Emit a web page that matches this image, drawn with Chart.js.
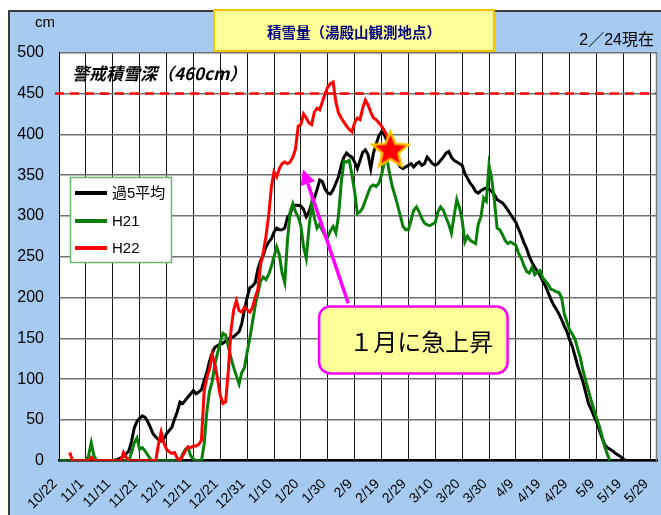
<!DOCTYPE html>
<html><head><meta charset="utf-8">
<script src="https://cdn.jsdelivr.net/npm/chart.js@4.4.1/dist/chart.umd.min.js"></script>
<style>html,body{margin:0;padding:0;background:#fff;}canvas{display:block}</style>
</head><body>
<canvas id="c" width="661" height="515"></canvas>
<script>
// x axis: day index counted from 10/22
const xTickLabels = ['10/22','11/1','11/11','11/21','12/1','12/11','12/21','12/31','1/10','1/20','1/30','2/9','2/19','2/29','3/10','3/20','3/30','4/9','4/19','4/29','5/9','5/19','5/29'];
const yTicks = [0,50,100,150,200,250,300,350,400,450,500];
const seriesNames = ['過5平均','H21','H22'];
const warnLevel = 450;
const currentPoint = [123.3, 380];

// [day, cm]
const avg5 = [[0,0],[20,0],[22,2],[24,5],[26,12],[27,24],[28,40],[29,48],[30,52],[31,55],[32,53],[33,48],[34,41],[35,33],[36,29],[37,26],[38,24],[39,27],[40,33],[42,41],[43,51],[44,60],[45,72],[46,70],[47,74],[48,78],[49,82],[50,86],[51,82],[52,84],[53,87],[54,98],[55,108],[56,122],[57,132],[58,139],[59,141],[61,144],[63,149],[64,151],[65,152],[67,158],[68,168],[69,185],[70,200],[71,212],[72,214],[73,218],[74,235],[75,245],[76,252],[77,262],[78,268],[79,272],[80,280],[81,285],[82,283],[83,283],[84,285],[85,298],[86,302],[87,312],[88,313],[89,313],[90,312],[91,308],[92,299],[93,305],[94,315],[95,322],[96,332],[97,344],[98,342],[99,333],[100,328],[101,327],[102,332],[103,340],[104,348],[105,362],[106,372],[107,377],[108,374],[109,372],[110,366],[111,358],[112,368],[113,378],[114,381],[115,375],[116,358],[117,377],[118,388],[119,398],[120,403],[121,400],[122,392],[123,385],[124,378],[125,370],[126,366],[127,360],[128,358],[129,360],[130,362],[131,364],[132,360],[133,364],[134,366],[135,362],[136,364],[137,372],[138,368],[139,364],[140,362],[141,364],[142,368],[143,372],[144,377],[145,379],[146,372],[147,368],[148,366],[150,362],[151,352],[152,346],[153,340],[154,336],[155,330],[156,328],[157,331],[158,333],[159,334],[160,333],[161,330],[162,326],[163,320],[164,318],[165,316],[166,312],[167,307],[168,302],[169,297],[170,292],[171,284],[172,276],[173,267],[174,260],[175,250],[176,243],[177,237],[178,232],[179,227],[180,220],[181,214],[182,206],[183,198],[184,191],[185,186],[186,180],[187,173],[188,165],[189,158],[190,148],[191,140],[192,128],[193,116],[194,106],[195,96],[196,83],[197,70],[198,63],[199,55],[200,48],[201,38],[202,28],[203,20],[204,16],[205,14],[206,12],[207,9],[208,7],[209,5],[210,2],[211,0],[222,0]];

const h21 = [[0,0],[10,0],[11,6],[12,22],[13,6],[14,0],[26,0],[27,10],[28,22],[29,28],[30,14],[31,16],[32,12],[33,7],[34,2],[35,0],[45,0],[46,8],[47,14],[48,16],[49,6],[50,2],[51,0],[53,0],[54,20],[55,60],[56,85],[57,97],[58,118],[59,132],[60,145],[61,156],[62,154],[63,140],[64,126],[65,114],[66,104],[67,94],[68,108],[69,114],[70,133],[71,150],[72,170],[73,190],[74,205],[75,220],[76,225],[77,222],[78,228],[79,238],[80,250],[81,262],[82,252],[83,230],[84,218],[85,270],[86,305],[87,315],[88,305],[89,299],[90,288],[91,262],[92,248],[93,285],[94,315],[95,298],[96,285],[97,290],[98,282],[99,276],[100,274],[101,282],[102,287],[103,279],[104,300],[105,340],[106,367],[107,366],[108,368],[109,350],[110,330],[111,303],[112,305],[113,310],[114,319],[115,328],[116,336],[117,338],[118,336],[119,340],[120,350],[121,365],[122,370],[123,352],[124,336],[125,325],[126,313],[127,300],[128,287],[129,283],[130,283],[131,295],[132,307],[133,311],[134,305],[135,297],[136,291],[137,289],[138,288],[139,290],[140,292],[141,305],[142,311],[143,307],[144,298],[145,290],[146,279],[147,300],[148,320],[149,310],[150,295],[151,268],[152,275],[153,270],[154,268],[155,266],[156,290],[157,299],[158,322],[159,318],[160,362],[161,345],[162,319],[163,285],[164,283],[165,277],[166,270],[167,266],[168,268],[170,264],[171,254],[172,248],[173,239],[174,232],[175,230],[176,237],[177,228],[178,231],[179,233],[180,224],[181,220],[182,216],[183,210],[184,209],[185,207],[186,206],[187,200],[188,180],[189,170],[190,160],[191,155],[192,149],[193,137],[194,126],[195,110],[196,98],[197,86],[198,74],[199,63],[200,52],[201,43],[202,30],[203,18],[204,8],[205,0]];

const h22 = [[4,10],[5,0],[11,0],[12,4],[13,0],[23,0],[24,10],[25,4],[26,0],[36,0],[37,20],[38,35],[39,22],[40,14],[41,11],[42,9],[43,10],[44,3],[45,0],[46,6],[47,12],[48,17],[49,16],[50,18],[51,18],[52,20],[53,25],[54,85],[55,102],[56,112],[57,130],[58,118],[59,100],[60,80],[61,70],[62,72],[63,110],[64,160],[65,185],[66,196],[67,184],[68,182],[69,188],[70,185],[71,182],[72,188],[73,200],[74,210],[75,240],[76,255],[77,275],[78,300],[79,335],[80,354],[81,348],[82,358],[83,364],[84,366],[85,364],[86,366],[87,372],[88,382],[89,410],[90,412],[91,425],[92,420],[93,414],[94,412],[95,427],[96,432],[97,430],[98,440],[99,450],[100,458],[101,462],[102,464],[103,440],[104,426],[105,420],[106,415],[107,410],[108,406],[109,403],[110,414],[111,420],[112,418],[113,432],[114,442],[115,436],[116,427],[117,420],[118,418],[119,414],[120,410],[121,405],[122,398],[123,390]];

const seriesColors = ['#000000','#0A800A','#FF0000'];
const LAT = "'Liberation Sans', 'Noto Sans CJK JP', sans-serif";
const JP = "'Noto Sans CJK JP', sans-serif";

// star marker image
const star = document.createElement('canvas');
star.width = 44; star.height = 44;
(function(){
  const g = star.getContext('2d');
  const cx = 22, cy = 22, R = 19, r = 8.5;
  g.beginPath();
  for (let i = 0; i < 10; i++) {
    const rad = i % 2 ? r : R;
    const a = -Math.PI/2 + i * Math.PI/5;
    const px = cx + rad*Math.cos(a), py = cy + rad*Math.sin(a);
    i ? g.lineTo(px,py) : g.moveTo(px,py);
  }
  g.closePath();
  g.fillStyle = '#FF0000'; g.fill();
  g.lineWidth = 2.5; g.strokeStyle = '#FFC000'; g.lineJoin='miter'; g.stroke();
})();

const deco = {
  id:'deco',
  beforeDraw(chart){
    const ctx = chart.ctx, W = chart.width, H = chart.height, a = chart.chartArea;
    ctx.save();
    ctx.fillStyle = '#fff'; ctx.fillRect(0,0,W,H);
    ctx.fillStyle = '#A6CAF0'; ctx.fillRect(8,10,W-8,H-10);
    ctx.strokeStyle = '#3a3a3a'; ctx.lineWidth = 2;
    ctx.beginPath(); ctx.moveTo(9,H); ctx.lineTo(9,11); ctx.lineTo(W,11); ctx.stroke();
    ctx.fillStyle = '#fff'; ctx.fillRect(a.left,a.top,a.right-a.left,a.bottom-a.top);
    ctx.restore();
  },
  afterDatasetsDraw(chart){
    const ctx = chart.ctx, a = chart.chartArea, xs = chart.scales.x, ys = chart.scales.y;
    ctx.save();
    ctx.strokeStyle = '#808080'; ctx.lineWidth = 1.5;
    ctx.beginPath(); ctx.moveTo(a.right-0.5,a.top); ctx.lineTo(a.right-0.5,a.bottom); ctx.stroke();

    // x tick labels (rotated), placed through the x scale
    ctx.fillStyle = '#000'; ctx.font = "14px " + LAT;
    ctx.textAlign = 'right'; ctx.textBaseline = 'middle';
    xTickLabels.forEach((t,i)=>{
      const px = xs.getPixelForValue(i*10);
      ctx.save(); ctx.translate(px - 4, a.bottom + 21); ctx.rotate(-Math.PI/4);
      ctx.fillText(t, 0, 0); ctx.restore();
    });

    ctx.fillStyle = '#000'; ctx.font = "italic bold 17px " + JP;
    ctx.textAlign = 'left'; ctx.textBaseline = 'middle';
    ctx.fillText('警戒積雪深（460cm）', 72, 74);

    ctx.fillStyle = '#fff'; ctx.fillRect(70,177,102,86);
    ctx.strokeStyle = '#6DB66D'; ctx.lineWidth = 1.5; ctx.strokeRect(70.5,177.5,101,85);
    const ly = [193,221,248];
    ctx.font = "15px " + LAT; ctx.textBaseline = 'middle';
    seriesNames.forEach((n,i)=>{
      ctx.strokeStyle = seriesColors[i]; ctx.lineWidth = 4;
      ctx.beginPath(); ctx.moveTo(75,ly[i]); ctx.lineTo(107,ly[i]); ctx.stroke();
      ctx.fillStyle = '#000'; ctx.fillText(n, 112, ly[i]+1);
    });

    const ax0 = xs.getPixelForValue(107.6), ay0 = ys.getPixelForValue(193);
    const ax1 = xs.getPixelForValue(90.8), ay1 = ys.getPixelForValue(357);
    const ang = Math.atan2(ay1-ay0, ax1-ax0);
    const hl = 15, hw = 7.5;
    const bx = ax1 - hl*Math.cos(ang), by = ay1 - hl*Math.sin(ang);
    ctx.strokeStyle = '#FF00FF'; ctx.fillStyle = '#FF00FF'; ctx.lineWidth = 3.5;
    ctx.beginPath(); ctx.moveTo(ax0,ay0); ctx.lineTo(bx,by); ctx.stroke();
    ctx.beginPath(); ctx.moveTo(ax1,ay1);
    ctx.lineTo(bx + hw*Math.sin(ang), by - hw*Math.cos(ang));
    ctx.lineTo(bx - hw*Math.sin(ang), by + hw*Math.cos(ang));
    ctx.closePath(); ctx.fill();

    const bx0 = xs.getPixelForValue(96.8), bx1 = xs.getPixelForValue(166.9);
    const by0 = ys.getPixelForValue(189), by1 = ys.getPixelForValue(107);
    ctx.beginPath(); ctx.roundRect(bx0, by0, bx1-bx0, by1-by0, 11);
    ctx.fillStyle = '#FFFF99'; ctx.fill();
    ctx.strokeStyle = '#FF00FF'; ctx.lineWidth = 2.5; ctx.stroke();
    ctx.fillStyle = '#000'; ctx.font = "24px " + JP; ctx.textAlign = 'center';
    ctx.fillText('１月に急上昇', (bx0+bx1)/2 + 8, (by0+by1)/2 + 2);
    ctx.restore();
  },
  afterDraw(chart){
    const ctx = chart.ctx;
    ctx.save();
    ctx.fillStyle = '#FFFF99'; ctx.fillRect(213,9,282,43);
    ctx.strokeStyle = '#F5C400'; ctx.lineWidth = 2; ctx.strokeRect(214,10,280,41);
    ctx.fillStyle = '#000080'; ctx.font = "bold 14.5px " + JP;
    ctx.textAlign = 'center'; ctx.textBaseline = 'middle';
    ctx.fillText('積雪量（湯殿山観測地点）', 354, 32);
    ctx.fillStyle = '#000'; ctx.font = "15px " + LAT;
    ctx.fillText('cm', 45, 23);
    ctx.textAlign = 'right'; ctx.font = "16px " + LAT;
    ctx.fillText('2／24現在', 654, 41);
    ctx.restore();
  }
};

const toXY = arr => arr.map(([x,y]) => ({x, y}));

new Chart(document.getElementById('c'), {
  type:'line',
  data:{ datasets:[
    { label:'star', data:[{x:currentPoint[0], y:currentPoint[1]}], showLine:false, pointStyle:star, pointRadius:1, borderWidth:0, order:0 },
    { label:seriesNames[2], data:toXY(h22), borderColor:seriesColors[2], borderWidth:3, pointRadius:0, order:1 },
    { label:seriesNames[1], data:toXY(h21), borderColor:seriesColors[1], borderWidth:3, pointRadius:0, order:2 },
    { label:seriesNames[0], data:toXY(avg5), borderColor:seriesColors[0], borderWidth:3, pointRadius:0, order:3 },
    { label:'warn', data:[{x:-1.5,y:warnLevel},{x:222.5,y:warnLevel}], borderColor:'#FF0000', borderWidth:2.5, borderDash:[9,6], pointRadius:0, clip:false, order:4 }
  ]},
  options:{
    responsive:false, animation:false, devicePixelRatio:1,
    layout:{padding:{left:0, top:52.7, right:2, bottom:0}},
    plugins:{legend:{display:false}, tooltip:{enabled:false}},
    scales:{
      x:{ type:'linear', min:0, max:222.5,
        afterFit(s){ s.height = 54.3; s.paddingLeft = 0; s.paddingRight = 0; },
        afterBuildTicks(s){ s.ticks = xTickLabels.map((_,i)=>({value:i*10})); },
        ticks:{ display:false },
        grid:{ color:'#1a1a1a', lineWidth:1, drawTicks:false },
        border:{ color:'#000', width:2.5 }
      },
      y:{ min:0, max:500,
        afterFit(s){ s.width = 59; s.paddingTop = 0; s.paddingBottom = 0; },
        afterBuildTicks(s){ s.ticks = yTicks.map(v=>({value:v})); },
        ticks:{ padding:15, color:'#000', font:{family:LAT, size:16} },
        grid:{ color:'#707070', lineWidth:1.5, drawTicks:false },
        border:{ color:'#000', width:1 }
      }
    }
  },
  plugins:[deco]
});
</script>
</body></html>
